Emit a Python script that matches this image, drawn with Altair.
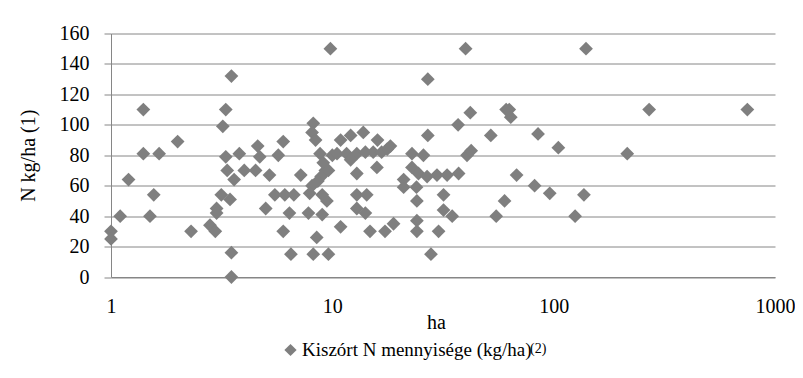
import altair as alt
import pandas as pd

# Parcel area (ha) and applied N (kg/ha)
ha = [1.0, 1.0, 1.1, 1.2, 1.4, 1.4, 1.5, 1.56, 1.65, 2.0,
      2.3, 2.8, 2.96, 3.0, 3.0, 3.15, 3.2, 3.3, 3.3, 3.35,
      3.45, 3.5, 3.5, 3.5, 3.6, 3.8,
      4.0, 4.5, 4.6, 4.7, 5.0, 5.2, 5.5, 5.7, 6.0, 6.1,
      6.0, 6.4, 6.5, 6.7, 7.2, 7.8, 8.2, 8.5, 9.6, 9.0,
      9.0, 9.45, 8.1, 7.9, 8.2, 8.1, 8.4, 8.8, 9.1, 9.3,
      8.9, 8.6, 9.8, 10.0, 10.5, 9.6, 10.9, 12.1, 13.8, 16.0,
      18.3, 11.6, 12.9, 14.1, 15.3, 16.7, 17.7, 12.1, 12.9, 15.9,
      12.9, 14.3, 12.9, 14.1, 10.9, 14.8, 17.3, 18.9, 22.9, 25.8,
      22.9, 24.5, 26.8, 29.7, 33.0, 37.2, 21.0, 21.0, 24.0, 24.1,
      24.1, 24.1, 30.2, 27.9, 31.8, 31.8, 34.8, 27.0, 27.0, 37.0,
      40.0, 42.0, 40.6, 42.4, 52.0, 55.0, 60.0, 61.0, 63.0, 64.0,
      68.0, 82.0, 85.0, 96.0, 105.0, 125.0, 137.0, 140.0, 215.0, 270.0,
      750.0]
n_kg = [30, 25, 40, 64, 110, 81, 40, 54, 81, 89,
        30, 34, 30, 45, 42, 54, 99, 110, 79, 70,
        51, 16, 0, 132, 64, 81,
        70, 70, 86, 79, 45, 67, 54, 80, 89, 54,
        30, 42, 15, 54, 67, 42, 15, 26, 15, 41,
        54, 50, 60, 55, 101, 95, 90, 81, 75, 70,
        66, 63, 150, 80, 81, 70, 90, 93, 95, 90,
        86, 81, 81, 82, 82, 82, 84, 77, 68, 72,
        54, 54, 45, 42, 33, 30, 30, 35, 81, 80,
        72, 68, 66, 67, 67, 68, 64, 59, 59, 50,
        37, 30, 30, 15, 54, 44, 40, 130, 93, 100,
        150, 108, 80, 83, 93, 40, 50, 110, 110, 105,
        67, 60, 94, 55, 85, 40, 54, 150, 81, 110,
        110]

series_name = "Kiszórt N mennyisége (kg/ha)"
footnote_text = ["(2)"]
x_ticks = [1, 10, 100, 1000]
y_ticks = [0, 20, 40, 60, 80, 100, 120, 140, 160]

df = pd.DataFrame({"ha": ha, "N": n_kg, "series": series_name})

FONT = "Liberation Serif"
GRID = "#868686"
MARK = "#7f7f7f"
W, H = 664, 243.5

points = alt.Chart(df).mark_point(
    shape="diamond", filled=True, size=190, opacity=1
).encode(
    x=alt.X("ha:Q",
            scale=alt.Scale(type="log", domain=[1, 1000]),
            axis=alt.Axis(values=x_ticks, format="d", grid=False, ticks=False,
                          tickSize=0, labelPadding=19, domainColor=GRID,
                          domainWidth=1, labelFont=FONT, labelFontSize=20,
                          labelColor="#000", labelOverlap=False, labelFlush=False,
                          title="ha", titleX=325, titleY=45, titleFont=FONT,
                          titleFontSize=20, titleColor="#000",
                          titleBaseline="middle", titleFontWeight="normal")),
    y=alt.Y("N:Q",
            scale=alt.Scale(domain=[0, 160]),
            axis=alt.Axis(values=y_ticks, grid=True, gridColor=GRID, gridWidth=1,
                          tickSize=7, tickColor=GRID, domainColor=GRID,
                          labelPadding=15, labelFont=FONT, labelFontSize=20,
                          labelColor="#000", labelFlush=False,
                          title="N kg/ha (1)", titleX=-83,
                          titleY=H / 2, titleFont=FONT, titleFontSize=20,
                          titleColor="#000", titleBaseline="middle",
                          titleFontWeight="normal")),
    color=alt.Color("series:N", scale=alt.Scale(range=[MARK]),
                    legend=alt.Legend(title=None, orient="none", legendX=170,
                                      legendY=307, symbolType="diamond",
                                      symbolSize=150, labelFont=FONT,
                                      labelFontSize=19, labelColor="#000",
                                      labelOffset=2, labelLimit=500, padding=0)),
)

footnote = alt.Chart(pd.DataFrame({"t": footnote_text})).mark_text(
    font=FONT, fontSize=14, align="left", baseline="middle", color="#000"
).encode(x=alt.value(419), y=alt.value(315), text="t:N")

border = alt.Chart(pd.DataFrame({"a": [0]})).mark_rect(
    fill="transparent", stroke="#a6a6a6", strokeWidth=1
).encode(x=alt.value(-106.5), x2=alt.value(720), y=alt.value(-26), y2=alt.value(400))

chart = alt.layer(border, points, footnote).properties(
    width=W, height=H,
    autosize=alt.AutoSizeParams(type="none"),
    padding={"left": 103, "top": 25.5, "right": 20, "bottom": 90},
).configure(
    font=FONT
).configure_view(stroke=None)

chart.save("out.html", embed_options={"renderer": "svg", "actions": False})
